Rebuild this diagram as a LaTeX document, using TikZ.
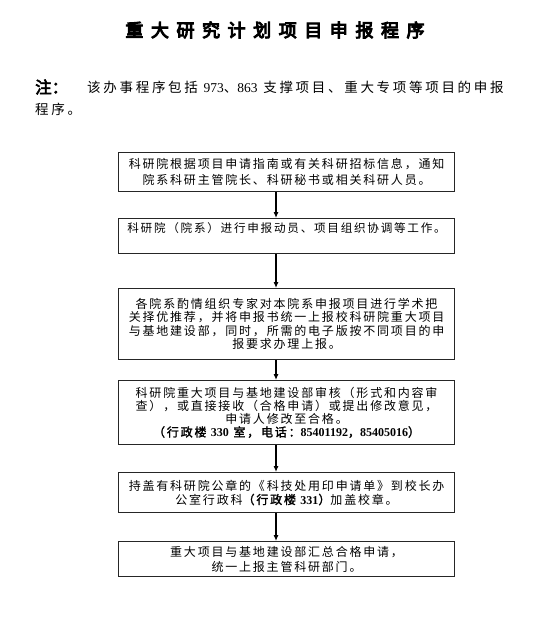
\documentclass[tikz,border=0pt]{standalone}
\usepackage{fontspec}
\usetikzlibrary{arrows.meta}
\newfontfamily\cjkbody[AutoFakeBold=2,LetterSpace=15]{Noto Sans CJK SC}
\newfontfamily\cjknote[AutoFakeBold=2.5,LetterSpace=20]{Noto Sans CJK SC}
\newfontfamily\cjkhead[AutoFakeBold=3.5]{Noto Sans CJK SC}
\newfontfamily\cjktitle[AutoFakeBold=5.5,LetterSpace=42]{Noto Sans CJK SC}
\newfontfamily\lser{Liberation Serif}
\newcommand\boxtext[4]{\parbox[c][#1][#2]{336pt}{\centering\cjkbody\fontsize{12}{#3}\selectfont #4\par}}
\tikzset{
  stepbox/.style={draw=black!85, line width=1.1pt, inner sep=0pt, anchor=north west},
  arr/.style={draw=black, line width=1.1pt, -{Latex[length=6pt,width=5pt]}},
  txt/.style={inner sep=0pt, anchor=west}
}
\begin{document}
\begin{tikzpicture}[x=1pt,y=-1pt]
\fill[white] (0,0) rectangle (555,629);
\useasboundingbox (0,0) rectangle (555,629);
\node[inner sep=0pt] (title) at (275,30) {\cjktitle\bfseries\fontsize{18}{18}\selectfont 重大研究计划项目申报程序};
\node[txt] (zhu) at (35,87) {\cjkhead\bfseries\fontsize{16.5}{16.5}\selectfont 注：};
\node[txt] (note1) at (87,87) {\cjknote\fontsize{13.5}{13.5}\selectfont 该办事程序包括 {\lser 973}、{\lser 863} 支撑项目、重大专项等项目的申报};
\node[txt] (note2) at (35,109) {\cjknote\fontsize{13.5}{13.5}\selectfont 程序。};

\node[stepbox] (b1) at (118,152) {\boxtext{39pt}{c}{16pt}{科研院根据项目申请指南或有关科研招标信息，通知\\院系科研主管院长、科研秘书或相关科研人员。}};
\node[stepbox] (b2) at (118,218) {\boxtext{35pt}{t}{14pt}{\vspace*{4pt}\fontsize{11.6}{14}\selectfont 科研院（院系）进行申报动员、项目组织协调等工作。}};
\node[stepbox] (b3) at (118,288) {\boxtext{71pt}{c}{13.5pt}{各院系酌情组织专家对本院系申报项目进行学术把\\关择优推荐，并将申报书统一上报校科研院重大项目\\与基地建设部，同时，所需的电子版按不同项目的申\\报要求办理上报。}};
\node[stepbox] (b4) at (118,380) {\boxtext{64pt}{c}{13pt}{科研院重大项目与基地建设部审核（形式和内容审\\查），或直接接收（合格申请）或提出修改意见，\\申请人修改至合格。\\{\bfseries（行政楼 {\lser 330} 室，电话：{\lser 85401192}，{\lser 85405016}）}}};
\node[stepbox] (b5) at (118,472) {\boxtext{40pt}{c}{14pt}{持盖有科研院公章的《科技处用印申请单》到校长办\\公室行政科{\bfseries（行政楼 {\lser 331}）}加盖校章。}};
\node[stepbox] (b6) at (118,541) {\boxtext{35pt}{c}{15pt}{重大项目与基地建设部汇总合格申请，\\统一上报主管科研部门。}};

\coordinate (ax) at (276,0);
\draw[arr] (b1.south -| ax) -- (b2.north -| ax);
\draw[arr] (b2.south -| ax) -- (b3.north -| ax);
\draw[arr] (b3.south -| ax) -- (b4.north -| ax);
\draw[arr] (b4.south -| ax) -- (b5.north -| ax);
\draw[arr] (b5.south -| ax) -- (b6.north -| ax);
\end{tikzpicture}
\end{document}
